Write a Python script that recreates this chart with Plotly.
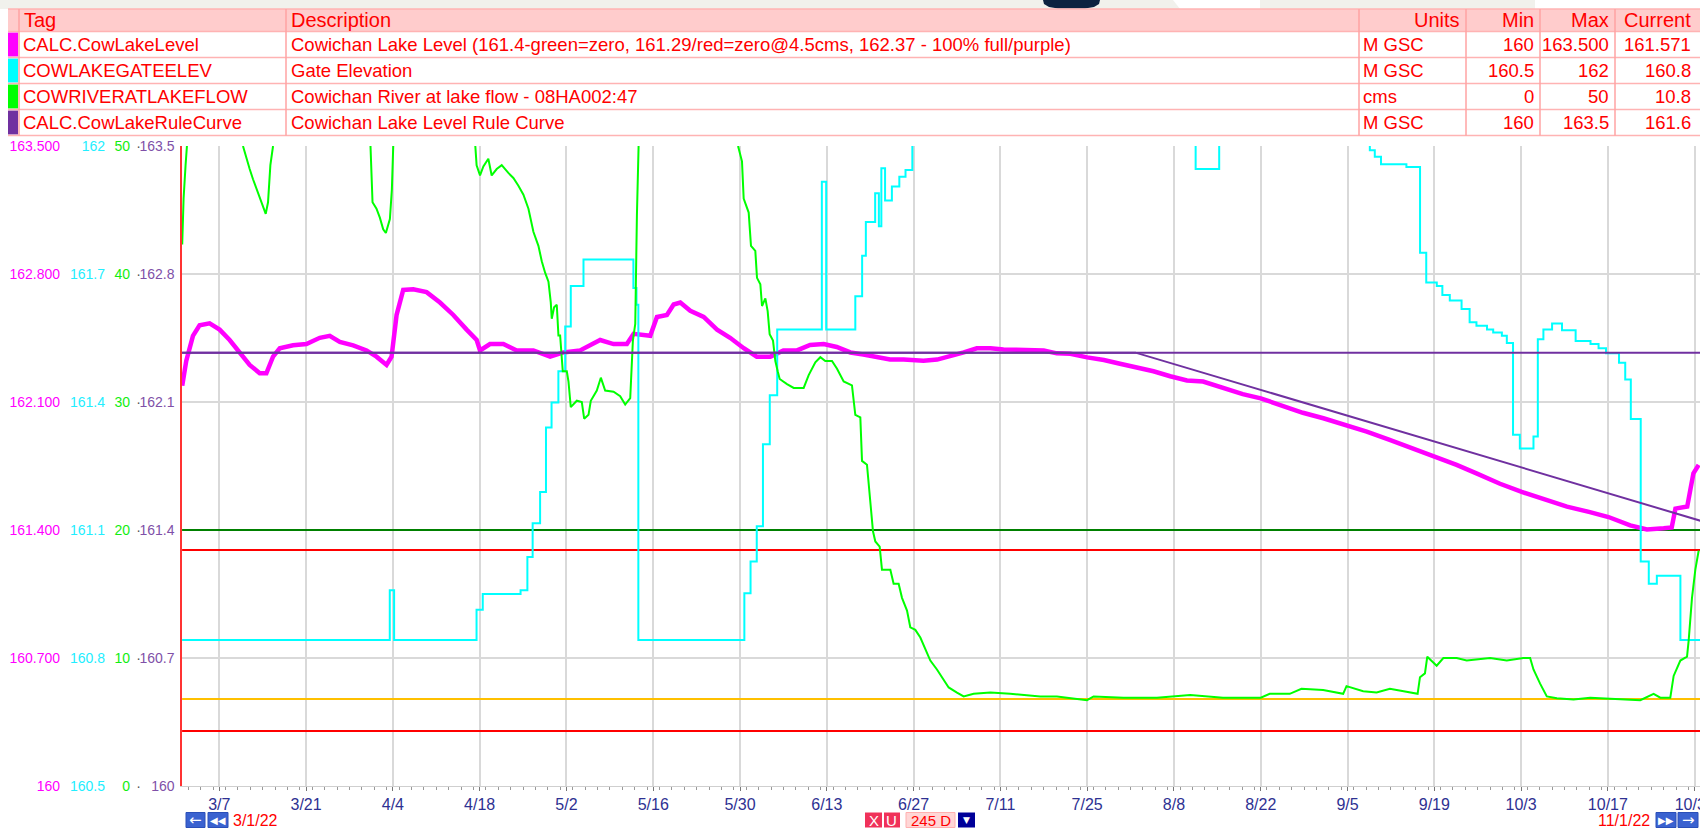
import pandas as pd
import plotly.graph_objects as go

START = pd.Timestamp("2022-03-01")

# ---------------- table content ----------------
header = ["Tag", "Description", "Units", "Min", "Max", "Current"]
tags = ["CALC.CowLakeLevel", "COWLAKEGATEELEV", "COWRIVERATLAKEFLOW", "CALC.CowLakeRuleCurve"]
descriptions = [
    "Cowichan Lake Level (161.4-green=zero, 161.29/red=zero@4.5cms, 162.37 - 100% full/purple)",
    "Gate Elevation",
    "Cowichan River at lake flow - 08HA002:47",
    "Cowichan Lake Level Rule Curve",
]
units = ["M GSC", "M GSC", "cms", "M GSC"]
mins = ["160", "160.5", "0", "160"]
maxs = ["163.500", "162", "50", "163.5"]
currents = ["161.571", "160.8", "10.8", "161.6"]
swatch_colors = ["#ff00ff", "#00ffff", "#00ff00", "#7030a0"]

# ---------------- axis ticks ----------------
level_ticks = [160, 160.7, 161.4, 162.1, 162.8, 163.5]
level_ticktext = ["160", "160.700", "161.400", "162.100", "162.800", "163.500"]
rule_ticktext = ["160", "160.7", "161.4", "162.1", "162.8", "163.5"]
gate_ticks = [160.5, 160.8, 161.1, 161.4, 161.7, 162.0]
gate_ticktext = ["160.5", "160.8", "161.1", "161.4", "161.7", "162"]
flow_ticks = [0, 10, 20, 30, 40, 50]
flow_ticktext = ["0", "10", "20", "30", "40", "50"]

# ---------------- series (days since 3/1/22) ----------------
level_days = [0.02, 0.67, 1.75, 2.82, 4.44, 6.05, 7.67, 9.28, 10.9, 12.52,
              13.59, 14.67, 15.75, 17.9, 20.05, 22.21, 23.82, 25.44, 27.59, 29.75,
              31.36, 32.98, 33.79, 34.6, 35.67, 37.29, 39.44, 41.6, 43.75, 45.9,
              47.52, 48.06, 49.67, 51.83, 53.98, 56.67, 59.37, 61.52, 64.21, 67.44,
              69.6, 71.75, 72.83, 75.52, 76.6, 78.21, 79.29, 80.37, 81.98,
              84.14, 86.3, 88.4, 90.6, 92.7, 94.9, 97.0, 99.2, 101.3, 103.5,
              105.6, 107.8, 109.9, 112.1, 114.2, 116.4, 119.6, 121.8, 123.9, 126.1,
              128.2, 130.4, 132.5, 134.7, 136.8, 139.0, 141.1, 143.3, 146.0, 148.7,
              151.3, 154.0, 156.7, 159.4, 162.1,
              164.7, 167.9, 171.1, 174.0, 177.6, 180.8, 184.1, 188.0, 191.1, 194.8,
              198.6, 202.0, 205.6, 208.8, 212.6, 216.1, 219.6, 223.4, 227.1, 230.1,
              233.6, 236.3, 239.0, 240.3, 240.9, 242.8, 243.3, 243.8, 244.65]
level_vals = [162.189, 162.325, 162.462, 162.519, 162.530, 162.496, 162.439, 162.371, 162.303, 162.257,
              162.257, 162.348, 162.394, 162.410, 162.417, 162.451, 162.462, 162.428, 162.410, 162.382,
              162.348, 162.303, 162.348, 162.576, 162.713, 162.717, 162.701, 162.644, 162.576, 162.496,
              162.439, 162.382, 162.417, 162.417, 162.382, 162.382, 162.348, 162.371, 162.382, 162.439,
              162.417, 162.417, 162.473, 162.462, 162.565, 162.576, 162.633, 162.644, 162.599,
              162.565, 162.496, 162.451, 162.394, 162.348, 162.348, 162.382, 162.382, 162.412, 162.417,
              162.401, 162.371, 162.360, 162.348, 162.332, 162.332, 162.325, 162.332, 162.348, 162.371,
              162.394, 162.394, 162.387, 162.387, 162.382, 162.382, 162.366, 162.364, 162.344, 162.330,
              162.309, 162.291, 162.268, 162.241, 162.218,
              162.212, 162.177, 162.143, 162.120, 162.075, 162.041, 162.011, 161.972, 161.938, 161.893,
              161.847, 161.801, 161.756, 161.710, 161.653, 161.608, 161.569, 161.528, 161.498, 161.471,
              161.425, 161.403, 161.409, 161.414, 161.517, 161.528, 161.619, 161.710, 161.756]

gate_days = [0, 33.5, 34.2, 47.5, 48.5, 54.6, 55.7, 56.55, 57.75, 58.7,
             59.6, 60.7, 61.8, 62.7, 64.75, 72.8, 73.3, 73.6, 90.7, 91.7,
             92.7, 93.7, 94.8, 96.0, 103.2, 103.9, 108.6, 109.7, 110.3, 111.8,
             112.4, 112.8, 113.4, 114.5, 115.7, 116.7, 117.8, 140, 163.5, 163.5,
             167.3, 180, 191.6, 191.6, 192.4, 193.4, 197.5, 199.7, 200.7, 202.4,
             203.3, 204.5, 206.4, 207.7, 208.8, 210.5, 211.5, 212.9, 213.7, 214.7,
             215.8, 218.0, 218.7, 219.6, 221.0, 222.6, 224.8, 227.2, 228.5, 229.7,
             231.8, 232.8, 233.7, 235.3, 236.6, 237.9, 241.7, 245]
gate_vals = [160.842, 160.959, 160.842, 160.913, 160.950, 160.959, 161.037, 161.116, 161.189, 161.340,
             161.399, 161.472, 161.577, 161.672, 161.734, 161.667, 161.628, 160.842, 160.952, 161.026,
             161.109, 161.301, 161.416, 161.570, 161.916, 161.570, 161.648, 161.743, 161.822, 161.889,
             161.812, 161.948, 161.872, 161.905, 161.928, 161.944, 162.05, None, 162.05, 161.946,
             162.05, None, 162.05, 161.99, 161.975, 161.957, 161.951, 161.750, 161.680, 161.672,
             161.651, 161.638, 161.618, 161.587, 161.579, 161.570, 161.563, 161.555, 161.538, 161.323,
             161.291, 161.319, 161.547, 161.570, 161.584, 161.568, 161.543, 161.536, 161.526, 161.514,
             161.492, 161.453, 161.360, 161.026, 160.974, 160.993, 160.842, 160.842]

flow_days = [0.02, 0.24, 0.56, 0.78, 5,
             9.82, 10.36, 10.90, 11.44, 11.98, 12.52, 13.05, 13.49, 13.86, 14.24, 14.67, 20,
             30.39, 30.72, 31.36, 31.90, 32.44, 32.87, 33.52, 33.84, 34.06, 40,
             47.30, 47.51, 48.06, 48.60, 49.40, 49.94, 50.75, 51.56, 52.63, 53.44,
             54.25, 55.06, 55.87, 56.67, 57.48, 58.02, 58.56, 59.10, 59.47, 59.63,
             60.01, 60.44, 60.71, 60.98, 61.41, 62.06, 62.33, 62.70, 63.67, 64.48,
             64.86, 65.56, 65.93, 66.90, 67.55, 68.25, 69.60, 70.67, 71.48, 72.29,
             72.72, 73.10, 73.37, 73.64, 80,
             89.68, 90.32, 90.59, 91.40, 91.77, 92.47, 92.74, 93.28, 93.55, 94.09,
             94.46, 94.78, 95.32, 95.70, 96.08, 96.40, 97.58, 98.66, 100.27, 101.08,
             102.15, 102.96, 103.76, 104.84, 105.65, 106.72, 108.06, 108.60, 109.41, 109.68,
             110.48, 111.02, 111.45, 111.83, 112.53, 112.90, 114.25, 114.78, 115.59, 116.13,
             116.94, 117.47, 118.28, 119.09, 119.89, 120.70, 121.77, 122.85, 123.66, 125.0,
             126.08, 127.69, 130.38, 133.6, 135.75, 138.44, 141.13, 143.82, 145.97, 147.04,
             151.88, 157.26, 162.63, 167.91, 174.0, 175.45, 178.68, 180.57, 184.07, 187.30,
             187.84, 190.53, 192.69, 194.84, 196.99, 199.31, 199.69, 200.49, 200.87, 202.38,
             203.46, 205.61, 207.23, 211.0, 213.69, 216.38, 217.46, 218.0, 219.07, 220.15,
             221.77, 224.46, 227.15, 229.84, 232.53, 235.23, 237.38, 238.46, 240.07, 240.61,
             241.69, 242.77, 243.04, 243.57, 244.11, 244.65]
flow_vals = [42.3, 45.9, 48.5, 50.0, None,
             50.0, 49.0, 48.2, 47.4, 46.7, 46.1, 45.4, 44.7, 45.6, 48.5, 50.0, None,
             50.0, 45.6, 45.1, 44.4, 43.5, 43.2, 44.3, 46.6, 50.0, None,
             50.0, 48.5, 47.7, 48.4, 49.0, 47.7, 48.2, 48.5, 47.9, 47.5,
             46.9, 46.2, 45.1, 43.3, 42.2, 41.0, 40.1, 39.4, 37.8, 36.5,
             37.4, 37.6, 35.2, 35.2, 32.4, 32.4, 31.6, 29.6, 30.1, 30.0,
             28.7, 29.0, 30.1, 30.9, 31.9, 30.9, 30.8, 30.45, 29.8, 30.3,
             34.8, 36.1, 44.6, 50.0, None,
             50.0, 48.8, 45.9, 44.8, 42.2, 41.8, 39.7, 39.2, 37.5, 38.1,
             37.1, 35.3, 34.8, 33.2, 32.4, 31.8, 31.4, 31.1, 31.1, 32.1,
             33.1, 33.5, 33.2, 33.2, 32.6, 31.6, 31.3, 29.0, 28.8, 25.4,
             25.1, 22.0, 19.9, 19.1, 18.7, 16.9, 16.9, 15.8, 15.8, 14.7,
             13.7, 12.4, 12.2, 11.6, 10.7, 9.8, 9.1, 8.3, 7.7, 7.3,
             7.0, 7.2, 7.3, 7.2, 7.1, 7.0, 7.0, 6.85, 6.7, 7.0,
             6.9, 6.9, 7.1, 6.9, 6.9, 7.2, 7.2, 7.6, 7.5, 7.2,
             7.8, 7.4, 7.3, 7.6, 7.4, 7.2, 8.5, 8.8, 10.1, 9.4,
             10.0, 10.0, 9.8, 10.0, 9.8, 10.0, 10.0, 9.1, 8.0, 7.0,
             6.85, 6.75, 6.9, 6.85, 6.75, 6.7, 7.2, 6.9, 6.9, 8.6,
             9.8, 10.1, 11.4, 14.7, 16.9, 18.4]

rule_days = [0, 153.8, 245]
rule_vals = [162.37, 162.37, 161.45]

# reference lines
full_level = 162.37
level_ref_vals = [161.4, 161.29]
level_ref_colors = ["#008000", "#ff0000"]
flow_ref_vals = [6.8, 4.3]
flow_ref_colors = ["#ffc000", "#ff0000"]

# ---------------- geometry ----------------
W, H = 1700, 829
X_LEFT = 182.1
Y_TOP, Y_BOT = 146.0, 786.0
PX_PER_DAY = 6.199
FONT = "Liberation Sans, Arial, sans-serif"
NARROW = "Liberation Sans Narrow, Liberation Sans, Arial, sans-serif"


def fx(x):
    return x / W


def fy(y):
    return 1 - y / H


def dates(days):
    return [START + pd.Timedelta(seconds=round(d * 86400)) for d in days]


x_end = START + pd.Timedelta(seconds=round((W - X_LEFT) / PX_PER_DAY * 86400))
span = [START, x_end]

fig = go.Figure()
for v, c in zip(level_ref_vals, level_ref_colors):
    fig.add_trace(go.Scatter(x=span, y=[v, v], yaxis="y", mode="lines",
                             line=dict(color=c, width=2), hoverinfo="skip"))
fig.add_trace(go.Scatter(x=dates(level_days), y=level_vals, yaxis="y2", mode="lines",
                         line=dict(color="#ff00ff", width=4.5)))
fig.add_trace(go.Scatter(x=dates(gate_days), y=gate_vals, yaxis="y3", mode="lines",
                         line=dict(color="#00ffff", width=2, shape="hv")))
for v, c in zip(flow_ref_vals, flow_ref_colors):
    fig.add_trace(go.Scatter(x=span, y=[v, v], yaxis="y4", mode="lines",
                             line=dict(color=c, width=2), hoverinfo="skip"))
fig.add_trace(go.Scatter(x=dates(flow_days), y=flow_vals, yaxis="y4", mode="lines",
                         line=dict(color="#00ff00", width=2)))
fig.add_trace(go.Scatter(x=dates(rule_days), y=rule_vals, yaxis="y5", mode="lines",
                         line=dict(color="#7030a0", width=2)))
fig.add_trace(go.Scatter(x=span, y=[full_level, full_level], yaxis="y5", mode="lines",
                         line=dict(color="#7030a0", width=2), hoverinfo="skip"))

shapes = []
annotations = []


def rect(x0, y0, x1, y1, fill, line=None, lw=0):
    shapes.append(dict(type="rect", xref="paper", yref="paper", x0=fx(x0), x1=fx(x1),
                       y0=fy(y1), y1=fy(y0), fillcolor=fill,
                       line=dict(color=line or fill, width=lw)))


def path(points, fill):
    d = "M " + " L ".join(f"{fx(x):.5f},{fy(y):.5f}" for x, y in points) + " Z"
    shapes.append(dict(type="path", xref="paper", yref="paper", path=d, fillcolor=fill,
                       line=dict(width=0)))


# top strip
rect(0, 0, 1700, 9, "#f1f1ec")
path([(1173, 0), (1260, 0), (1260, 9), (1180, 9)], "#ffffff")
rect(1535, 0, 1700, 9, "#ffffff")
path([(1043, 0), (1100, 0), (1099, 4), (1094, 7), (1085, 8.5), (1058, 8.5), (1049, 7), (1044, 4)], "#0d2240")

# table
col_edges = [8, 19, 286, 1359, 1466, 1540, 1615, 1700]
row_edges = [9, 31.5, 57.5, 83.5, 109.5, 135.5]
rect(8, row_edges[0], 1700, row_edges[1], "#ffcccc")
rect(8, row_edges[1], 1700, row_edges[-1], "#ffffff")
for i, c in enumerate(swatch_colors):
    rect(8, row_edges[i + 1] + 1, 18, row_edges[i + 2] - 1, c)
for y in row_edges:
    shapes.append(dict(type="line", xref="paper", yref="paper", x0=fx(8), x1=1, y0=fy(y), y1=fy(y),
                       line=dict(color="#ffb3b3", width=1.5)))
for x in col_edges[1:-1]:
    shapes.append(dict(type="line", xref="paper", yref="paper", x0=fx(x), x1=fx(x),
                       y0=fy(row_edges[0]), y1=fy(row_edges[-1]),
                       line=dict(color="#ffa3a3", width=1.5)))


def text(x, y, s, anchor="left", size=18.5, color="#ff0000", family=FONT):
    annotations.append(dict(x=fx(x), y=fy(y), xref="paper", yref="paper", text=s, showarrow=False,
                            xanchor=anchor, yanchor="middle",
                            font=dict(family=family, size=size, color=color)))


hy = (row_edges[0] + row_edges[1]) / 2
text(22, hy, header[0], size=20)
text(289, hy, header[1], size=20)
text(1462, hy, header[2], "right", size=20)
text(1536, hy, header[3], "right", size=20)
text(1611, hy, header[4], "right", size=20)
text(1693, hy, header[5], "right", size=20)
for i in range(4):
    cy = (row_edges[i + 1] + row_edges[i + 2]) / 2
    text(21, cy, tags[i])
    text(289, cy, descriptions[i])
    text(1361, cy, units[i])
    text(1536, cy, mins[i], "right")
    text(1611, cy, maxs[i], "right")
    text(1693, cy, currents[i], "right")

# bottom controls
BY0, BY1 = 812.5, 827.5
BCY = (BY0 + BY1) / 2
for x0, x1, glyph in [(186, 205, "←"), (208, 228, "◀◀"), (1656, 1676, "▶▶"), (1678, 1698, "→")]:
    rect(x0, BY0, x1, BY1, "#3a62d0", "#2a4fb8", 1)
    text((x0 + x1) / 2, BCY, glyph, "center", size=10 if len(glyph) > 1 else 15,
         color="#ffffff", family="DejaVu Sans")
text(231, BCY, "3/1/22", "left", size=16, family=NARROW)
text(1652, BCY, "11/1/22", "right", size=16, family=NARROW)
rect(865, BY0, 882, BY1, "#f0325a")
text(873.5, BCY, "X", "center", size=15, color="#ffffff", family=NARROW)
rect(884, BY0, 900, BY1, "#f0325a")
text(892, BCY, "U", "center", size=15, color="#ffffff", family=NARROW)
rect(906, BY0, 955, BY1, "#ffd6d6", "#ffb0b0", 1)
text(930.5, BCY, "245 D", "center", size=15, family=NARROW)
rect(958, BY0, 975, BY1, "#000099")
text(966.5, BCY, "▼", "center", size=9, color="#ffffff", family="DejaVu Sans")

ydom = [fy(Y_BOT), fy(Y_TOP)]
free = dict(overlaying="y", anchor="free", side="left", showgrid=False, zeroline=False,
            showline=False, ticks="", automargin=False, tickmode="array")

fig.update_layout(
    width=W, height=H, margin=dict(l=0, r=0, t=0, b=0),
    paper_bgcolor="#ffffff", plot_bgcolor="#ffffff", showlegend=False,
    xaxis=dict(domain=[fx(X_LEFT), 1], type="date", range=span,
               tick0="2022-03-07", dtick=14 * 86400000, tickformat="%-m/%-d",
               ticks="outside", ticklen=4, tickcolor="#777777", ticklabeloverflow="allow",
               showgrid=True, gridcolor="#d9d9d9", gridwidth=1.5,
               showline=True, linecolor="#cfcfcf", linewidth=1, zeroline=False,
               tickfont=dict(family=NARROW, size=16, color="#2e3192"),
               minor=dict(dtick=2 * 86400000, ticks="outside", ticklen=3, tickcolor="#999999",
                          showgrid=False),
               automargin=False, anchor="y"),
    yaxis=dict(domain=ydom, range=[160, 163.5], tickmode="array", tickvals=level_ticks,
               ticktext=rule_ticktext, tickfont=dict(family=FONT, size=14, color="#8050a8"),
               showgrid=True, gridcolor="#d9d9d9", gridwidth=1.5, zeroline=False,
               showline=True, linecolor="#ff3333", linewidth=1.5,
               ticks="outside", ticklen=3, tickcolor="rgba(0,0,0,0)", automargin=False, anchor="x"),
    yaxis2=dict(free, range=[160, 163.5], position=fx(60), tickvals=level_ticks,
                ticktext=level_ticktext, tickfont=dict(family=FONT, size=14, color="#ff00ff")),
    yaxis3=dict(free, range=[160.5, 162], position=fx(105), tickvals=gate_ticks,
                ticktext=gate_ticktext, tickfont=dict(family=FONT, size=14, color="#22eeff")),
    yaxis4=dict(free, range=[0, 50], position=fx(130), tickvals=flow_ticks,
                ticktext=flow_ticktext, tickfont=dict(family=FONT, size=14, color="#11ee11")),
    yaxis5=dict(free, range=[160, 163.5], position=fx(141), tickvals=level_ticks,
                ticktext=["·"] * 6, tickfont=dict(family=FONT, size=14, color="#555555")),
    shapes=shapes, annotations=annotations,
)

fig.write_html("out.html", config={"displayModeBar": False},
               post_script="document.body.style.margin='0';")
